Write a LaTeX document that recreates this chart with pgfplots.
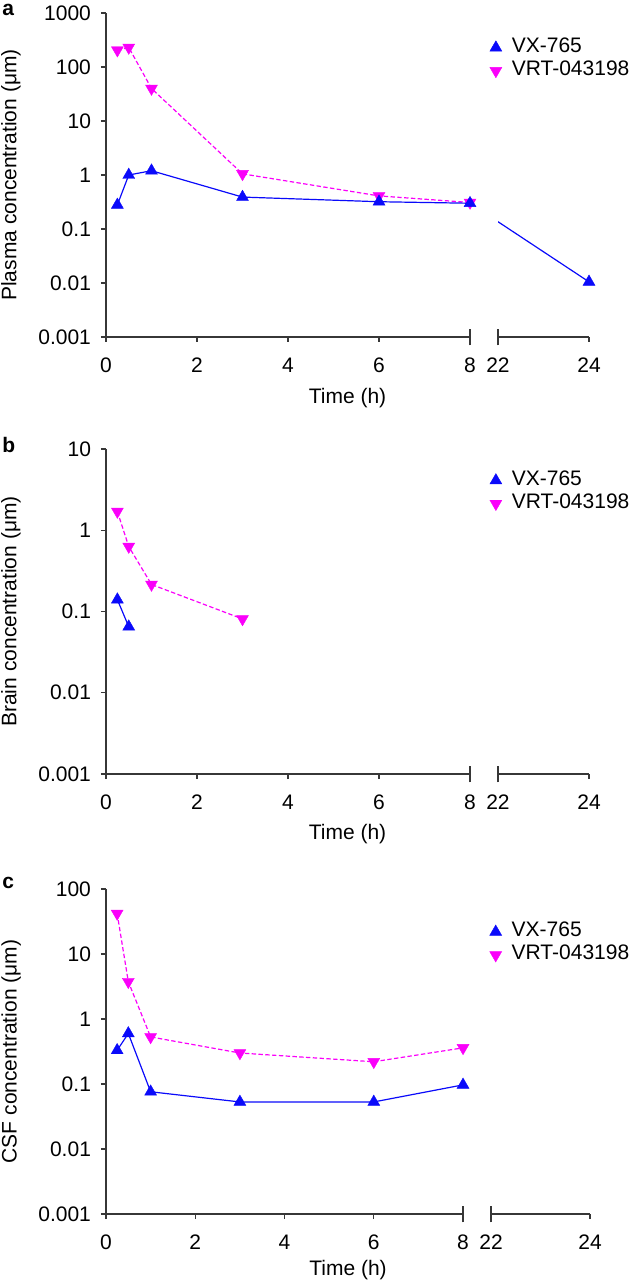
\documentclass[border=0pt]{standalone}
\usepackage{pgfplots}
\pgfplotsset{compat=1.18}
\usepackage{fontspec}
\setmainfont{Liberation Sans}
\definecolor{vxblue}{RGB}{10,10,250}
\definecolor{vrtmag}{RGB}{250,0,250}
\definecolor{axgray}{RGB}{55,55,55}
\newcommand{\fs}{\fontsize{10.5}{12}\selectfont}
\newcommand{\legtxt}[1]{\hspace*{4.5pt}#1}
\pgfplotsset{
  every axis/.append style={
    scale only axis, clip=false,
    axis y line=left, axis x line=bottom,
    x axis line style={draw=none},
    y axis line style={-, draw=axgray, line width=0.65pt},
    yminorticks=false,
    tick align=outside, major tick length=2.5pt,
    tick style={axgray, line width=0.65pt},
    tick label style={font=\fs},
    yticklabel style={xshift=-1.5pt},
    xticklabel style={yshift=-4.5pt},
    label style={font=\fs},
    legend cell align=left,
    legend style={draw=none, fill=none, inner sep=0pt, row sep=0pt,
      nodes={inner sep=0.5pt, text height=7.6pt, text depth=3pt, font=\fs}},
  },
  vx/.style={vxblue, line width=0.6pt, mark=triangle*, mark size=3.45pt,
    mark options={solid, fill=vxblue, draw=vxblue, line width=0.2pt}},
  vrt/.style={vrtmag, line width=0.6pt, dash pattern=on 2.2pt off 1.2pt, mark=triangle*, mark size=3.45pt,
    mark options={solid, rotate=180, fill=vrtmag, draw=vrtmag, line width=0.2pt}},
}
\newcommand{\brokenxaxis}{%
  \draw[axgray, line width=0.65pt] (axis cs:0,0.001) -- (axis cs:8,0.001);
  \draw[axgray, line width=0.65pt] (axis cs:22,0.001) -- (axis cs:24,0.001);
  \draw[axgray, line width=0.65pt] ([yshift=-4.2pt]axis cs:8,0.001) -- ([yshift=4.2pt]axis cs:8,0.001);
  \draw[axgray, line width=0.65pt] ([yshift=-4.2pt]axis cs:22,0.001) -- ([yshift=4.2pt]axis cs:22,0.001);
}
\begin{document}
\begin{tikzpicture}
\path[use as bounding box] (0pt,0pt) rectangle (318pt,-641.5pt);

% ---------------- panel a ----------------
\begin{axis}[
  ymode=log, ymin=0.001, ymax=1000,
  xmin=0, xmax=24,
  xtick={0,2,4,6,8,22,24},
  xticklabels={0,2,4,6,8,22,24},
  x coord trafo/.code={\pgfmathparse{ifthenelse(#1>15,#1-13.385,#1)}},
  x coord inv trafo/.code={\pgfmathparse{ifthenelse(#1>8.3,#1+13.385,#1)}},
  at={(53pt,-168.5pt)}, anchor=south west,
  width=241.5pt, height=162pt,
  ytick={0.001,0.01,0.1,1,10,100,1000},
  yticklabels={0.001,0.01,0.1,1,10,100,1000},
  xlabel={Time (h)},
  ylabel={Plasma concentration (μm)},
  ylabel style={at={(axis description cs:-0.197,0.5)}, anchor=center},
  xlabel style={at={(axis description cs:0.5,-0.188)}, anchor=center},
  legend style={at={(axis description cs:0.794,0.93)}, anchor=north west},
]
\addlegendimage{only marks, vx}
\addlegendentry{\legtxt{VX-765}}
\addlegendimage{only marks, vrt}
\addlegendentry{\legtxt{VRT-043198}}
\addplot[vx, no markers, forget plot] coordinates {(8,0.30) (24,0.0105)};
\fill[white] (axis cs:8,0.0011) rectangle (axis cs:22,1000);
\brokenxaxis
\addplot[vrt, forget plot] coordinates {(0.25,205) (0.5,230) (1,40) (3,1.05) (6,0.41) (8,0.31)};
\addplot[vx, forget plot] coordinates {(0.25,0.28) (0.5,1.0) (1,1.2) (3,0.39) (6,0.32) (8,0.30)};
\addplot[vx, only marks, forget plot] coordinates {(24,0.0105)};
\end{axis}

% ---------------- panel b ----------------
\begin{axis}[
  ymode=log, ymin=0.001, ymax=10,
  xmin=0, xmax=24,
  xtick={0,2,4,6,8,22,24},
  xticklabels={0,2,4,6,8,22,24},
  x coord trafo/.code={\pgfmathparse{ifthenelse(#1>15,#1-13.385,#1)}},
  x coord inv trafo/.code={\pgfmathparse{ifthenelse(#1>8.3,#1+13.385,#1)}},
  at={(53pt,-387pt)}, anchor=south west,
  width=241.5pt, height=162.5pt,
  ytick={0.001,0.01,0.1,1,10},
  yticklabels={0.001,0.01,0.1,1,10},
  xlabel={Time (h)},
  ylabel={Brain concentration (μm)},
  ylabel style={at={(axis description cs:-0.197,0.5)}, anchor=center},
  xlabel style={at={(axis description cs:0.5,-0.185)}, anchor=center},
  legend style={at={(axis description cs:0.794,0.94)}, anchor=north west},
]
\addlegendimage{only marks, vx}
\addlegendentry{\legtxt{VX-765}}
\addlegendimage{only marks, vrt}
\addlegendentry{\legtxt{VRT-043198}}
\brokenxaxis
\addplot[vrt, forget plot] coordinates {(0.25,1.7) (0.5,0.63) (1,0.215) (3,0.081)};
\addplot[vx, forget plot] coordinates {(0.25,0.14) (0.5,0.065)};
\end{axis}

% ---------------- panel c ----------------
\begin{axis}[
  ymode=log, ymin=0.001, ymax=100,
  xmin=0, xmax=24,
  xtick={0,2,4,6,8,22,24},
  xticklabels={0,2,4,6,8,22,24},
  x coord trafo/.code={\pgfmathparse{ifthenelse(#1>15,1.109*#1-15.771,#1)}},
  x coord inv trafo/.code={\pgfmathparse{ifthenelse(#1>8.4,(#1+15.771)/1.109,#1)}},
  at={(53pt,-607pt)}, anchor=south west,
  width=242pt, height=162.5pt,
  ytick={0.001,0.01,0.1,1,10,100},
  yticklabels={0.001,0.01,0.1,1,10,100},
  xlabel={Time (h)},
  ylabel={CSF concentration (μm)},
  ylabel style={at={(axis description cs:-0.196,0.5)}, anchor=center},
  xlabel style={at={(axis description cs:0.5,-0.172)}, anchor=center},
  legend style={at={(axis description cs:0.792,0.905)}, anchor=north west},
]
\addlegendimage{only marks, vx}
\addlegendentry{\legtxt{VX-765}}
\addlegendimage{only marks, vrt}
\addlegendentry{\legtxt{VRT-043198}}
\brokenxaxis
\addplot[vrt, forget plot] coordinates {(0.25,42) (0.5,3.75) (1,0.53) (3,0.30) (6,0.22) (8,0.36)};
\addplot[vx, forget plot] coordinates {(0.25,0.33) (0.5,0.60) (1,0.076) (3,0.053) (6,0.053) (8,0.097)};
\end{axis}

\node[anchor=base west, inner sep=0pt, font=\fs\bfseries] at (1pt,-8pt) {a};
\node[anchor=base west, inner sep=0pt, font=\fs\bfseries] at (1pt,-226pt) {b};
\node[anchor=base west, inner sep=0pt, font=\fs\bfseries] at (1pt,-444pt) {c};
\end{tikzpicture}
\end{document}
